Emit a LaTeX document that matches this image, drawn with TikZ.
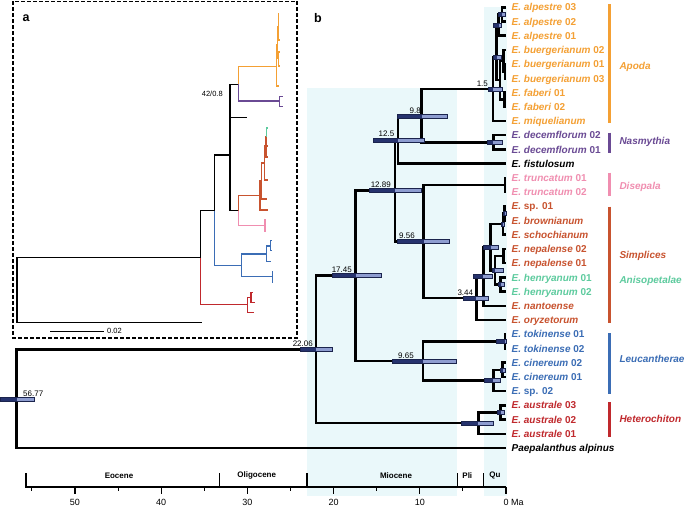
\documentclass[tikz,border=0pt]{standalone}
\usepackage{fontspec}
\setmainfont{Liberation Sans}
\usetikzlibrary{calc}

\definecolor{apoda}{HTML}{F4A034}
\definecolor{nasm}{HTML}{6A4A94}
\definecolor{disep}{HTML}{F08EB0}
\definecolor{simpl}{HTML}{C8532F}
\definecolor{aniso}{HTML}{5DCB9E}
\definecolor{leuc}{HTML}{3B6DB5}
\definecolor{hetero}{HTML}{C0292D}
\definecolor{hpddark}{HTML}{26336E}
\definecolor{hpdlight}{HTML}{8E9DD0}
\definecolor{epochbg}{HTML}{EAF8FA}

% tip of the dated tree: name, y, colour, label
\newcommand{\taxon}[4]{%
  \coordinate (#1) at (506,#2);
  \node[tiplab, text=#3] (#1-lab) at ([xshift=5.5pt,yshift=-3.6pt]#1) {#4};}
% species label: italic name, upright number
\newcommand{\spn}[2]{\textit{E. #1} #2}
% 95% HPD bar: node, extent to the left, extent to the right
\newcommand{\hpd}[3]{%
  \fill[hpddark] ($(#1)+(-#2,-2)$) rectangle ($(#1)+(0,2)$);
  \fill[hpdlight] ($(#1)+(0,-2)$) rectangle ($(#1)+(#3,2)$);
  \draw[hpdedge] ($(#1)+(-#2,-2)$) rectangle ($(#1)+(#3,2)$);}

\begin{document}
\begin{tikzpicture}[x=1pt, y=-1pt,
  br/.style      ={line width=2.5pt, black},
  abr/.style     ={line width=1.3pt},
  tiplab/.style  ={anchor=base west, inner sep=0pt, font=\fontsize{10}{12}\selectfont\bfseries},
  cladelab/.style={anchor=west, inner sep=0pt, font=\fontsize{10}{12}\selectfont\bfseries\itshape},
  cladebar/.style={line width=3pt},
  age/.style     ={inner sep=0pt, font=\fontsize{8}{9}\selectfont},
  epoch/.style   ={inner sep=0pt, font=\fontsize{8}{9}\selectfont\bfseries},
  axnum/.style   ={inner sep=0pt, font=\fontsize{9}{10}\selectfont},
  axisline/.style={line width=1.1pt},
  hpdedge/.style ={draw=hpddark!70!black, line width=0.4pt},
  panel/.style   ={inner sep=0pt, font=\fontsize{12.5}{14}\selectfont\bfseries},
  framebox/.style={line width=1.3pt, dash pattern=on 3.5pt off 2.5pt},
  small/.style   ={inner sep=0pt, font=\fontsize{7.5}{9}\selectfont},
]
\useasboundingbox (0,0) rectangle (685,507);
\fill[white] (0,0) rectangle (685,507);

% --- epoch shading ---
\fill[epochbg] (306.7,88.3) rectangle (456.7,496);
\fill[epochbg] (483.5,6.7) rectangle (506.7,496);

% --- panel a: ML phylogram ---
\draw[framebox] (13,1.2) rectangle (297,338);
\node[panel] (pa) at (26,18) {a};

\coordinate (ra)     at (17,290.2);
\coordinate (oa)     at (201.7,322.7);
\coordinate (a_n1)   at (200.7,257.7);
\coordinate (a_n2)   at (214.3,210.7);
\coordinate (a_n3)   at (230,155);
\coordinate (a_n4)   at (238.7,84.3);
\coordinate (a_n5)   at (238.7,210.7);
\coordinate (a_fis)  at (246.7,117.3);
\coordinate (a_het)  at (247.7,304.3);
\coordinate (a_het1) at (251,297.5);
\coordinate (a_ht1)  at (252.5,292.3);
\coordinate (a_ht2)  at (254.5,302.3);
\coordinate (a_ht3)  at (254,312.7);
\coordinate (a_leu)  at (241.7,265.7);
\coordinate (a_leu1) at (266.7,254);
\coordinate (a_leu1a) at (270.5,246);
\coordinate (a_lt1)  at (271.7,240.7);
\coordinate (a_lt2)  at (271.7,250.7);
\coordinate (a_lt3)  at (270.5,261.7);
\coordinate (a_leu2) at (272.3,276.7);
\coordinate (a_lt4)  at (273.2,271.7);
\coordinate (a_lt5)  at (273.2,282.7);
\coordinate (a_apo)  at (276.7,66.7);
\coordinate (a_apo1) at (277.3,45);
\coordinate (a_apo2) at (278.2,27);
\coordinate (a_at1)  at (279.3,13.3);
\coordinate (a_at2)  at (280.3,40);
\coordinate (a_apo3) at (278.5,58);
\coordinate (a_at3)  at (279.8,52);
\coordinate (a_at4)  at (279.2,66);
\coordinate (a_at5)  at (279,86);
\coordinate (a_nas)  at (279.3,101);
\coordinate (a_nt1)  at (282.7,96.7);
\coordinate (a_nt2)  at (282.7,106.7);
\coordinate (a_sim)  at (260,195.7);
\coordinate (a_sim1) at (261.7,181);
\coordinate (a_sim2) at (264.5,163);
\coordinate (a_sim3) at (266,146);
\coordinate (a_sim4) at (266.8,137);
\coordinate (a_st1)  at (268.3,210);
\coordinate (a_st2)  at (266.7,199);
\coordinate (a_st3)  at (268.3,180);
\coordinate (a_st4)  at (268,157);
\coordinate (a_st5)  at (267.5,128);
\coordinate (a_st6)  at (268.2,146);
\coordinate (a_dis)  at (265,225.7);
\coordinate (a_dt1)  at (265.6,220);
\coordinate (a_dt2)  at (265.6,231);

\foreach \p/\c in {ra/oa, ra/a_n1, a_n1/a_n2, a_n2/a_n3, a_n3/a_n4, a_n3/a_fis, a_n3/a_n5}
  \draw[abr, black] (\p) |- (\c);
\foreach \p/\c in {a_n1/a_het, a_het/a_het1, a_het/a_ht3, a_het1/a_ht1, a_het1/a_ht2}
  \draw[abr, hetero] (\p) |- (\c);
\foreach \p/\c in {a_n2/a_leu, a_leu/a_leu1, a_leu/a_leu2, a_leu1/a_leu1a, a_leu1/a_lt3,
                   a_leu1a/a_lt1, a_leu1a/a_lt2, a_leu2/a_lt4, a_leu2/a_lt5}
  \draw[abr, leuc] (\p) |- (\c);
\foreach \p/\c in {a_n4/a_apo, a_apo/a_apo1, a_apo/a_at5, a_apo1/a_apo2, a_apo1/a_apo3,
                   a_apo2/a_at1, a_apo2/a_at2, a_apo3/a_at3, a_apo3/a_at4}
  \draw[abr, apoda] (\p) |- (\c);
\foreach \p/\c in {a_n4/a_nas, a_nas/a_nt1, a_nas/a_nt2}
  \draw[abr, nasm] (\p) |- (\c);
\foreach \p/\c in {a_n5/a_sim, a_sim/a_sim1, a_sim/a_st1, a_sim1/a_sim2, a_sim1/a_st2,
                   a_sim2/a_sim3, a_sim2/a_st3, a_sim3/a_sim4, a_sim3/a_st4, a_sim4/a_st6}
  \draw[abr, simpl] (\p) |- (\c);
\draw[abr, aniso] (a_sim4) |- (a_st5);
\foreach \p/\c in {a_n5/a_dis, a_dis/a_dt1, a_dis/a_dt2}
  \draw[abr, disep] (\p) |- (\c);

\node[small] (sup42) at (212.3,94.3) {42/0.8};
\coordinate (sb1) at (50,331);
\coordinate (sb2) at (104,331);
\draw[line width=1pt] (sb1) -- (sb2);
\node[small, anchor=west] (sblab) at ([xshift=3pt]sb2) {0.02};

% --- panel b: dated tree ---
\node[panel] (pb) at (318,18) {b};

\taxon{alp03}{7.3}{apoda}{\spn{alpestre}{03}}
\taxon{alp02}{21.5}{apoda}{\spn{alpestre}{02}}
\taxon{alp01}{35.7}{apoda}{\spn{alpestre}{01}}
\taxon{bue02}{50.0}{apoda}{\spn{buergerianum}{02}}
\taxon{bue01}{64.2}{apoda}{\spn{buergerianum}{01}}
\taxon{bue03}{78.4}{apoda}{\spn{buergerianum}{03}}
\taxon{fab01}{92.6}{apoda}{\spn{faberi}{01}}
\taxon{fab02}{106.8}{apoda}{\spn{faberi}{02}}
\taxon{miq}{121.0}{apoda}{\spn{miquelianum}{}}
\taxon{dec02}{135.2}{nasm}{\spn{decemflorum}{02}}
\taxon{dec01}{149.5}{nasm}{\spn{decemflorum}{01}}
\taxon{fis}{163.7}{black}{\spn{fistulosum}{}}
\taxon{tru01}{177.9}{disep}{\spn{truncatum}{01}}
\taxon{tru02}{192.1}{disep}{\spn{truncatum}{02}}
\taxon{sp01}{206.3}{simpl}{\textit{E.} sp. 01}
\taxon{bro}{220.5}{simpl}{\spn{brownianum}{}}
\taxon{sch}{234.7}{simpl}{\spn{schochianum}{}}
\taxon{nep02}{249.0}{simpl}{\spn{nepalense}{02}}
\taxon{nep01}{263.2}{simpl}{\spn{nepalense}{01}}
\taxon{hen01}{277.4}{aniso}{\spn{henryanum}{01}}
\taxon{hen02}{291.6}{aniso}{\spn{henryanum}{02}}
\taxon{nan}{305.8}{simpl}{\spn{nantoense}{}}
\taxon{ory}{320.0}{simpl}{\spn{oryzetorum}{}}
\taxon{tok01}{334.2}{leuc}{\spn{tokinense}{01}}
\taxon{tok02}{348.5}{leuc}{\spn{tokinense}{02}}
\taxon{cin02}{362.7}{leuc}{\spn{cinereum}{02}}
\taxon{cin01}{376.9}{leuc}{\spn{cinereum}{01}}
\taxon{sp02}{391.1}{leuc}{\textit{E.} sp. 02}
\taxon{aus03}{405.3}{hetero}{\spn{australe}{03}}
\taxon{aus02}{419.5}{hetero}{\spn{australe}{02}}
\taxon{aus01}{433.8}{hetero}{\spn{australe}{01}}
\taxon{pae}{448.0}{black}{\textit{Paepalanthus alpinus}}

% internal nodes (x = 506 - 8.62 * age)
\coordinate (n5677) at (16.6,398.7);
\coordinate (n2206) at (315.8,349.4);
\coordinate (n1745) at (355.6,275.6);
\coordinate (n1289) at (394.9,190.4);
\coordinate (n125)  at (398.2,140.1);
\coordinate (n98)   at (421.5,116.5);
\coordinate (n15)   at (493.1,89);
\coordinate (core)  at (496.5,57);
\coordinate (a2)    at (498.5,25);
\coordinate (a1)    at (502,14.4);
\coordinate (bf)    at (500,80.2);
\coordinate (b2)    at (503.5,60.6);
\coordinate (b1)    at (505,71.3);
\coordinate (f1)    at (504.5,99.7);
\coordinate (dec)   at (493.3,142.4);
\coordinate (n956)  at (423.6,241.6);
\coordinate (tru)   at (505,185);
\coordinate (n344)  at (476.3,298.2);
\coordinate (na)    at (483.3,276.5);
\coordinate (nb)    at (490.7,247.2);
\coordinate (c2)    at (503,224);
\coordinate (c1)    at (504.7,213.4);
\coordinate (nd)    at (495,270.3);
\coordinate (nep)   at (503.5,256.1);
\coordinate (hen)   at (500.5,284.5);
\coordinate (n965)  at (422.8,360.9);
\coordinate (tok)   at (505,341.3);
\coordinate (cs)    at (493.3,380.4);
\coordinate (cin)   at (502.7,369.8);
\coordinate (aus)   at (478.3,423.1);
\coordinate (aus1)  at (500.7,412.4);

\foreach \p/\c in {n5677/n2206, n5677/pae, n2206/n1745, n2206/aus,
                   n1745/n1289, n1745/n965, n1289/n125, n1289/n956,
                   n125/n98, n125/fis, n98/n15, n98/dec,
                   n15/core, n15/miq, core/a2, core/bf,
                   a2/a1, a2/alp01, a1/alp03, a1/alp02,
                   bf/b2, bf/f1, b2/bue02, b2/b1, b1/bue01, b1/bue03,
                   f1/fab01, f1/fab02, dec/dec02, dec/dec01,
                   n956/tru, n956/n344, tru/tru01, tru/tru02,
                   n344/na, n344/ory, na/nb, na/nan, nb/c2, nb/nd,
                   c2/c1, c2/sch, c1/sp01, c1/bro,
                   nd/nep, nd/hen, nep/nep02, nep/nep01, hen/hen01, hen/hen02,
                   n965/tok, n965/cs, tok/tok01, tok/tok02,
                   cs/cin, cs/sp02, cin/cin02, cin/cin01,
                   aus/aus1, aus/aus01, aus1/aus03, aus1/aus02}
  \draw[br] (\p) |- (\c);

% --- HPD bars ---
\hpd{n5677}{16.6}{17.4}
\hpd{n2206}{15.8}{16.5}
\hpd{n1745}{23.9}{25.4}
\hpd{n1289}{25.6}{25.8}
\hpd{n125}{24.9}{26.1}
\hpd{n98}{24.8}{25.2}
\hpd{n956}{26.9}{25.4}
\hpd{n965}{31.1}{33.2}
\hpd{n344}{13}{11.4}
\hpd{na}{10}{9}
\hpd{nb}{7.4}{7.6}
\hpd{nd}{3.3}{7.7}
\hpd{hen}{2.5}{3.5}
\hpd{c1}{1.5}{1.5}
\hpd{c2}{1.5}{1.5}
\hpd{n15}{5.4}{9.2}
\hpd{dec}{6.6}{8.4}
\hpd{core}{3.5}{4.5}
\hpd{a2}{5.2}{2.2}
\hpd{a1}{4}{3}
\hpd{tok}{9}{1}
\hpd{cs}{9.3}{6.7}
\hpd{cin}{2.7}{2.7}
\hpd{aus}{17.3}{15}
\hpd{aus1}{3.7}{3.3}

% --- node ages ---
\node[age, anchor=west] (l5677) at ([xshift=6.4pt,yshift=5.4pt]n5677) {56.77};
\node[age, anchor=east] (l2206) at ([xshift=-2.8pt,yshift=5.4pt]n2206) {22.06};
\node[age, anchor=east] (l1745) at ([xshift=-3.6pt,yshift=5.6pt]n1745) {17.45};
\node[age, anchor=east] (l1289) at ([xshift=-3.9pt,yshift=5.4pt]n1289) {12.89};
\node[age, anchor=east] (l125)  at ([xshift=-3.7pt,yshift=6pt]n125) {12.5};
\node[age, anchor=east] (l98)   at ([xshift=-0.5pt,yshift=5.5pt]n98) {9.8};
\node[age, anchor=east] (l956)  at ([xshift=-8.6pt,yshift=5.6pt]n956) {9.56};
\node[age, anchor=east] (l965)  at ([xshift=-8.8pt,yshift=5.6pt]n965) {9.65};
\node[age, anchor=east] (l344)  at ([xshift=-3pt,yshift=5pt]n344) {3.44};
\node[age, anchor=east] (l15)   at ([xshift=-5pt,yshift=5.7pt]n15) {1.5};

% --- clade bars ---
\draw[cladebar, apoda]  (609.3,4) -- (609.3,122.7);
\draw[cladebar, nasm]   (609.3,132.7) -- (609.3,152.7);
\draw[cladebar, disep]  (609.3,172.7) -- (609.3,196);
\draw[cladebar, simpl]  (609.3,206.7) -- (609.3,322.7);
\draw[cladebar, leuc]   (609.3,333.3) -- (609.3,394.3);
\draw[cladebar, hetero] (609.3,402.3) -- (609.3,436.7);

\node[cladelab, text=apoda]  (apodalab) at (619.3,67.3)  {Apoda};
\node[cladelab, text=nasm]   (nasmlab)  at (619.3,141.7) {Nasmythia};
\node[cladelab, text=disep]  (diseplab) at (619.3,186.7) {Disepala};
\node[cladelab, text=simpl]  (simpllab) at (619.3,255.7) {Simplices};
\node[cladelab, text=aniso]  (anisolab) at (619.3,281)   {Anisopetalae};
\node[cladelab, text=leuc]   (leuclab)  at (619.3,358.7) {Leucantherae};
\node[cladelab, text=hetero] (hetlab)   at (619.3,419)   {Heterochiton};

% --- time axis ---
\draw[axisline] (26,473) -- (26,487) -- (506,487);
\foreach \x in {219.3,307,457.3,483.7}
  \draw[axisline] (\x,473) -- (\x,487);
\foreach \t in {0,10,...,50}
  \draw[axisline] ({506-8.62*\t},487) -- ++(0,7);
\foreach \t in {5,15,...,55}
  \draw[axisline] ({506-8.62*\t},487) -- ++(0,4);
\foreach \t in {10,20,...,50}
  \node[axnum] (ax\t) at ({506-8.62*\t},502.7) {\t};
\node[axnum, anchor=west] (ax0) at (503.4,502.7) {0 Ma};

\node[epoch] (eoc) at (119,475.7)   {Eocene};
\node[epoch] (oli) at (256.7,475.7) {Oligocene};
\node[epoch] (mio) at (396,475.7)   {Miocene};
\node[epoch] (pli) at (467.3,475.7) {Pli};
\node[epoch] (qua) at (495,475.7)   {Qu};
\end{tikzpicture}
\end{document}
